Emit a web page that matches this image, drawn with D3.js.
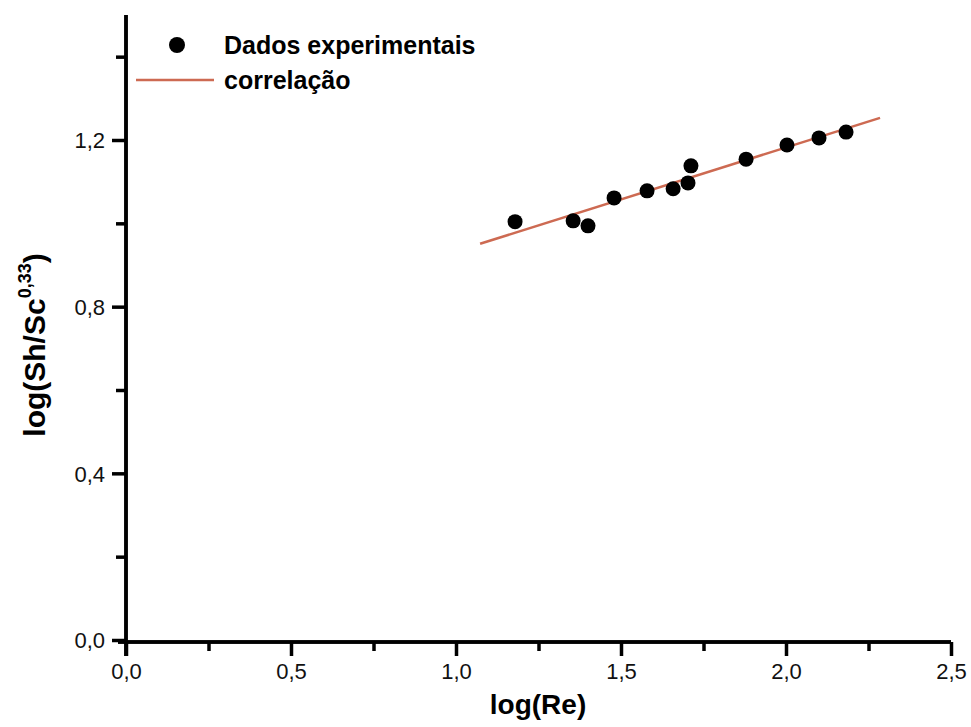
<!DOCTYPE html>
<html>
<head>
<meta charset="utf-8">
<script src="https://cdn.jsdelivr.net/npm/d3@7"></script>
<style>
  body { margin: 0; background: #fff; }
  text { font-family: "Liberation Sans", Arial, sans-serif; }
</style>
</head>
<body>
<svg id="chart" width="971" height="727"></svg>
<script>
// experimental points, log(Re) vs log(Sh/Sc^0,33)
const logRe = [1.179, 1.355, 1.400, 1.479, 1.579, 1.658, 1.703, 1.712, 1.879, 2.003, 2.100, 2.182];
const logSh = [1.004, 1.006, 0.994, 1.061, 1.078, 1.083, 1.097, 1.138, 1.154, 1.188, 1.205, 1.219];
// fitted correlation line end points
const corrX = [1.073, 2.285];
const corrY = [0.951, 1.253];
const xTicks = [0, 0.5, 1.0, 1.5, 2.0, 2.5];
const xMinor = [0.25, 0.75, 1.25, 1.75, 2.25];
const yTicks = [0, 0.4, 0.8, 1.2];
const yMinor = [0.2, 0.6, 1.0, 1.4];

const svg = d3.select('#chart');
const locale = d3.formatLocale({ decimal: ',', thousands: '.', grouping: [3], currency: ['', ''] });
const fmt = locale.format('.1f');

const x = d3.scaleLinear().domain([0, 2.5]).range([126, 951]);
const y = d3.scaleLinear().domain([0, 1.5]).range([640, 15]);
const y0 = y(0);

// x axis
const gx = svg.append('g').attr('transform', `translate(0,${y0 + 2})`);
gx.call(d3.axisBottom(x).tickValues(xTicks).tickSize(14).tickPadding(7).tickFormat(fmt));
gx.append('g').call(d3.axisBottom(x).tickValues(xMinor).tickSize(9).tickFormat(''));

// y axis
const gy = svg.append('g').attr('transform', `translate(${x(0)},0)`);
gy.call(d3.axisLeft(y).tickValues(yTicks).tickSize(14).tickPadding(7).tickFormat(fmt));
gy.append('g').call(d3.axisLeft(y).tickValues(yMinor).tickSize(10).tickFormat(''));

svg.selectAll('.domain').style('stroke', '#000').style('stroke-width', '3.5px');
svg.selectAll('.tick line').style('stroke', '#000').style('stroke-width', '3.5px');
svg.selectAll('.tick text').style('font-size', '22px').style('fill', '#111')
  .style('font-family', '"Liberation Sans", Arial, sans-serif');
gx.selectAll('.domain').attr('d', `M${x(0) - 8},0H${x(2.5)}`);
gy.selectAll('.domain').attr('d', `M0,${y(1.5)}V${y0 + 16}`);
gy.selectAll('.tick text').attr('dy', '0.36em');

// correlation line
const line = d3.line().x((d, i) => x(corrX[i])).y(d => y(d));
svg.append('path')
  .attr('d', line(corrY))
  .attr('fill', 'none')
  .attr('stroke', '#cd6a52')
  .attr('stroke-width', 2.5);

// data points
svg.append('g').selectAll('circle')
  .data(logRe)
  .join('circle')
  .attr('cx', d => x(d))
  .attr('cy', (d, i) => y(logSh[i]))
  .attr('r', 7.5)
  .attr('fill', '#000');

// legend
const leg = svg.append('g');
leg.append('circle').attr('cx', 177).attr('cy', 45).attr('r', 8).attr('fill', '#000');
leg.append('text').attr('x', 224).attr('y', 54).attr('font-size', 25).attr('font-weight', 'bold')
  .text('Dados experimentais');
leg.append('line').attr('x1', 136).attr('x2', 214).attr('y1', 80).attr('y2', 80)
  .attr('stroke', '#cd6a52').attr('stroke-width', 2.5);
leg.append('text').attr('x', 224).attr('y', 89).attr('font-size', 25).attr('font-weight', 'bold')
  .text('correlação');

// axis titles
svg.append('text')
  .attr('x', 538).attr('y', 714)
  .attr('text-anchor', 'middle').attr('font-size', 28).attr('font-weight', 'bold')
  .text('log(Re)');

const yt = svg.append('text')
  .attr('transform', 'translate(45,345) rotate(-90)')
  .attr('text-anchor', 'middle').attr('font-size', 30).attr('font-weight', 'bold');
yt.append('tspan').text('log(Sh/Sc');
yt.append('tspan').attr('font-size', 18).attr('dy', -14).text('0,33');
yt.append('tspan').attr('dy', 14).text(')');
</script>
</body>
</html>
